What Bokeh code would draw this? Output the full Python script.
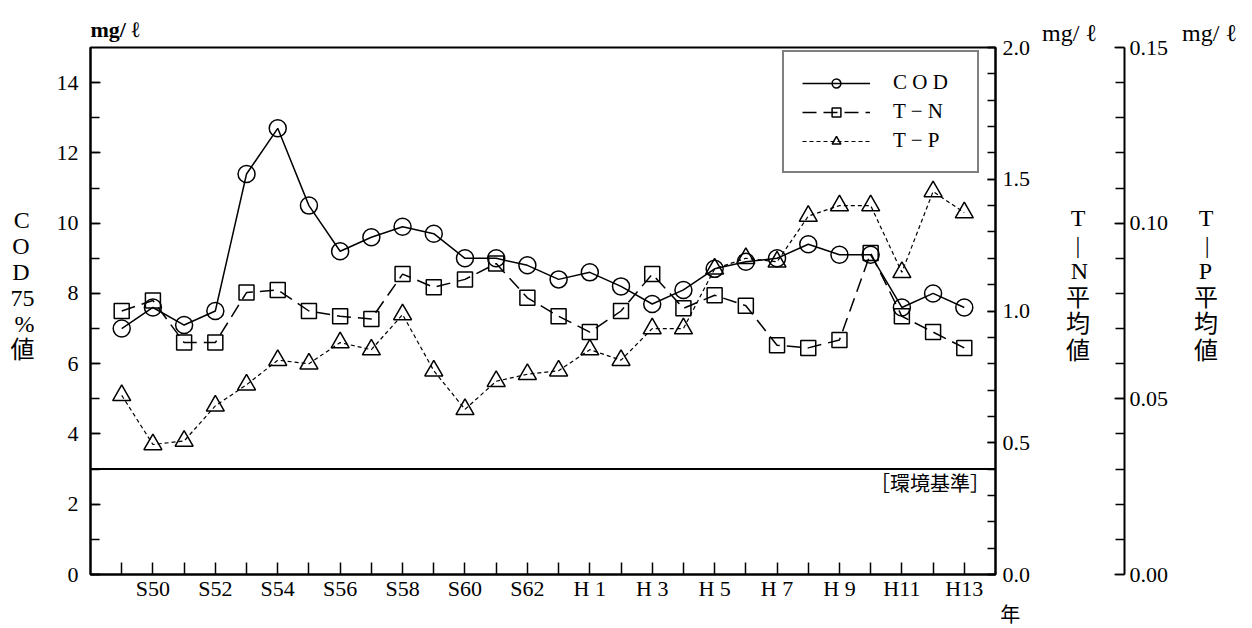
from bokeh.plotting import figure
from bokeh.models import (Range1d, LinearAxis, FixedTicker, PrintfTickFormatter,
                          Span, Label)
from bokeh.embed import file_html
from bokeh.resources import INLINE

# ---------------- data ----------------
years = ["S49", "S50", "S51", "S52", "S53", "S54", "S55", "S56", "S57", "S58",
         "S59", "S60", "S61", "S62", "S63", "H1", "H2", "H3", "H4", "H5",
         "H6", "H7", "H8", "H9", "H10", "H11", "H12", "H13"]
shown_ticks = {"S50": "S50", "S52": "S52", "S54": "S54", "S56": "S56",
               "S58": "S58", "S60": "S60", "S62": "S62", "H1": "H 1",
               "H3": "H 3", "H5": "H 5", "H7": "H 7", "H9": "H 9",
               "H11": "H11", "H13": "H13"}
cod = [7.0, 7.6, 7.1, 7.5, 11.4, 12.7, 10.5, 9.2, 9.6, 9.9,
       9.7, 9.0, 9.0, 8.8, 8.4, 8.6, 8.2, 7.7, 8.1, 8.7,
       8.9, 9.0, 9.4, 9.1, 9.1, 7.6, 8.0, 7.6]
tn = [1.00, 1.04, 0.88, 0.88, 1.07, 1.08, 1.00, 0.98, 0.97, 1.14,
      1.09, 1.12, 1.18, 1.05, 0.98, 0.92, 1.00, 1.14, 1.01, 1.06,
      1.02, 0.87, 0.86, 0.89, 1.22, 0.98, 0.92, 0.86]
tp = [0.051, 0.037, 0.038, 0.048, 0.054, 0.061, 0.060, 0.066, 0.064, 0.074,
      0.058, 0.047, 0.055, 0.057, 0.058, 0.064, 0.061, 0.070, 0.070, 0.087,
      0.090, 0.089, 0.102, 0.105, 0.105, 0.086, 0.109, 0.103]
standard_cod = 3.0
unit = "mg/ ℓ"
cod_title = ["C", "O", "D", "75", "%", "値"]
tn_title = ["T", "|", "N", "平", "均", "値"]
tp_title = ["T", "|", "P", "平", "均", "値"]
year_word = "年"
standard_text = "［環境基準］"

x = list(range(len(years)))

# ---------------- figure ----------------
W, H = 1252, 628
X0, X1 = -1, len(years)
p = figure(width=W, height=H, output_backend="svg", toolbar_location=None,
           x_range=Range1d(X0, X1), y_range=Range1d(0, 15),
           min_border_left=90, min_border_top=47, min_border_right=W - 995,
           min_border_bottom=H - 575, background_fill_color="white",
           border_fill_color="white")
p.extra_y_ranges = {"tn": Range1d(0, 2.0), "tp": Range1d(0, 0.15)}
p.xgrid.visible = False
p.ygrid.visible = False
p.outline_line_color = "black"
p.outline_line_width = 2

SERIF = "Liberation Serif"
CJK = "Noto Sans CJK JP"
MIXED = "Liberation Serif, Noto Sans CJK JP"
NB = "\u00a0"   # no-break space (centering pads inside stacked labels)
TH = "\u2009"   # thin space

# left unit as the title
p.title.text = unit
p.title.align = "left"
p.title.text_font = SERIF
p.title.text_font_size = "22px"
p.title.text_font_style = "bold"
p.title.text_color = "black"
p.title.standoff = 11


def style_axis(ax, tick_in, minor_in, standoff):
    ax.major_tick_in = tick_in
    ax.major_tick_out = 0
    ax.minor_tick_in = minor_in
    ax.minor_tick_out = 0
    ax.axis_line_width = 2
    ax.axis_line_color = "black"
    ax.major_tick_line_width = 1.5
    ax.minor_tick_line_width = 1.5
    ax.major_tick_line_color = "black"
    ax.minor_tick_line_color = "black"
    ax.major_label_text_font = SERIF
    ax.major_label_text_font_size = "22px"
    ax.major_label_text_color = "black"
    ax.major_label_standoff = standoff


def stacked_label(ax, lines, standoff, line_height):
    ax.axis_label = "\n".join(lines)
    ax.axis_label_orientation = "horizontal"
    ax.axis_label_text_font = MIXED
    ax.axis_label_text_font_size = "24px"
    ax.axis_label_text_font_style = "normal"
    ax.axis_label_text_color = "black"
    ax.axis_label_text_line_height = line_height
    ax.axis_label_standoff = standoff


# x axis
xa = p.xaxis[0]
xa.ticker = FixedTicker(ticks=x)
xa.major_label_overrides = {i: shown_ticks.get(y, "") for i, y in enumerate(years)}
style_axis(xa, 12, 0, 1)
xa.minor_tick_line_color = None

# second row below the x axis: the word 年 at the right end
year_pos = X1 - 0.01
ya2 = LinearAxis(ticker=FixedTicker(ticks=[year_pos]))
ya2.major_label_overrides = {year_pos: "\u3000\u2002" + year_word}
ya2.axis_line_color = None
ya2.major_tick_line_color = None
ya2.minor_tick_line_color = None
ya2.major_tick_out = 0
ya2.major_tick_in = 0
ya2.major_label_text_font = MIXED
ya2.major_label_text_font_size = "20px"
ya2.major_label_text_color = "black"
ya2.major_label_standoff = 0
p.add_layout(ya2, "below")

# left axis (COD)
ya = p.yaxis[0]
ya.ticker = FixedTicker(ticks=[0, 2, 4, 6, 8, 10, 12, 14],
                        minor_ticks=list(range(0, 15)))
style_axis(ya, 10, 9, 12)
cod_pad = {"C": TH, "O": TH, "D": TH}
stacked_label(ya, [c + cod_pad.get(c, "") for c in cod_title] + ["", ""], 19, 1.0)

# right axis (T-N)
tn_axis = LinearAxis(y_range_name="tn",
                     ticker=FixedTicker(ticks=[0, 0.5, 1.0, 1.5, 2.0],
                                        minor_ticks=[i / 10 for i in range(21)]),
                     formatter=PrintfTickFormatter(format="%.1f"))
style_axis(tn_axis, 8, 8, 7)
tn_pad = {"T": NB * 4 + TH, "|": NB * 4 + TH + TH, "N": NB * 4 + TH}
tn_lines = [unit] + [""] * 6 + [tn_pad.get(c, NB * 4) + c for c in tn_title] + [""] * 9
stacked_label(tn_axis, tn_lines, 9, 1.02)
p.add_layout(tn_axis, "right")

# gap between the two right axes
gap_axis = LinearAxis(y_range_name="tn", ticker=FixedTicker(ticks=[]))
gap_axis.axis_line_color = None
gap_axis.major_tick_line_color = None
gap_axis.minor_tick_line_color = None
gap_axis.major_tick_out = 0
gap_axis.minor_tick_out = 0
gap_axis.major_label_standoff = 0
gap_axis.axis_label = "\u3000"
gap_axis.axis_label_text_font_size = "12px"
gap_axis.axis_label_standoff = 8
p.add_layout(gap_axis, "right")

# second right axis (T-P)
tp_axis = LinearAxis(y_range_name="tp",
                     ticker=FixedTicker(ticks=[0, 0.05, 0.10, 0.15],
                                        minor_ticks=[i / 100 for i in range(16)]),
                     formatter=PrintfTickFormatter(format="%.2f"))
style_axis(tp_axis, 10, 9, 5)
tp_pad = {"T": NB * 2 + TH, "|": NB * 3 + TH, "P": NB * 2 + TH}
tp_lines = [unit] + [""] * 6 + [tp_pad.get(c, NB * 2) + c for c in tp_title] + [""] * 9
stacked_label(tp_axis, tp_lines, 11, 1.02)
p.add_layout(tp_axis, "right")

# environmental standard line
p.add_layout(Span(location=standard_cod, dimension="width",
                  line_color="black", line_width=2))
p.add_layout(Label(x=X1 - 0.18, y=2.61, text=standard_text, text_font=CJK,
                   text_font_size="20px", text_align="right",
                   text_baseline="middle", text_color="black"))

# ---------------- series ----------------
p.line(x, cod, line_color="black", line_width=1.5, legend_label="C O D")
p.scatter(x, cod, marker="circle", size=17, fill_color=None,
          line_color="black", line_width=1.5, legend_label="C O D")

p.line(x, tn, y_range_name="tn", line_color="black", line_width=1.5,
       line_dash="14 7", legend_label="T − N")
p.scatter(x, tn, y_range_name="tn", marker="square", size=15, fill_color=None,
          line_color="black", line_width=1.5, legend_label="T − N")

p.line(x, tp, y_range_name="tp", line_color="black", line_width=1.2,
       line_dash="4 3", legend_label="T − P")
p.scatter(x, tp, y_range_name="tp", marker="triangle", size=18, fill_color=None,
          line_color="black", line_width=1.5, legend_label="T − P")

lg = p.legend[0]
lg.location = (782 - 90, 574 - 173)
lg.border_line_color = "black"
lg.border_line_width = 2
lg.padding = 18
lg.spacing = 4
lg.margin = 0
lg.glyph_width = 68
lg.glyph_height = 22
lg.label_height = 22
lg.label_standoff = 23
lg.label_width = 66
lg.label_text_font = SERIF
lg.label_text_font_size = "21px"
lg.label_text_color = "black"
lg.background_fill_color = "white"
lg.background_fill_alpha = 1

open("out.html", "w").write(file_html(p, INLINE))
